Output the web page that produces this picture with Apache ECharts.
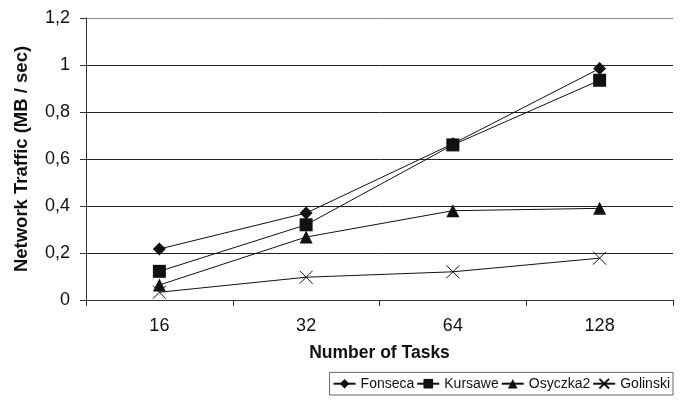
<!DOCTYPE html>
<html><head><meta charset="utf-8">
<script src="https://cdn.jsdelivr.net/npm/echarts@6/dist/echarts.min.js"></script>
<style>html,body{margin:0;padding:0;background:#fff}#c{width:682px;height:419px}</style>
</head><body><div id="c"></div>
<script>
var categories = ['16', '32', '64', '128'];
var fonseca = [0.217, 0.37, 0.665, 0.985];
var kursawe = [0.122, 0.32, 0.66, 0.935];
var osyczka2 = [0.064, 0.268, 0.38, 0.39];
var golinski = [0.033, 0.097, 0.12, 0.178];
var seriesNames = ['Fonseca', 'Kursawe', 'Osyczka2', 'Golinski'];

var ink = '#111';
var font = 'Liberation Sans, Arial, sans-serif';
var chart = echarts.init(document.getElementById('c'));
function mk(name, data, symbol, size, extra) {
  var s = {
    name: name, type: 'line', data: data, symbol: symbol, symbolSize: size,
    showAllSymbol: true,
    lineStyle: { color: ink, width: 1 },
    itemStyle: { color: ink },
    animation: false
  };
  if (extra) Object.assign(s, extra);
  return s;
}
chart.setOption({
  animation: false,
  textStyle: { fontFamily: font },
  grid: { left: 86, right: 9, top: 18, bottom: 119 },
  xAxis: {
    type: 'category', data: categories, boundaryGap: true,
    name: 'Number of Tasks', nameLocation: 'middle', nameGap: 44,
    nameTextStyle: { fontSize: 17.5, fontWeight: 'bold', color: '#111', fontFamily: font },
    axisLine: { lineStyle: { color: '#333', width: 1 } },
    axisTick: { show: true, length: 6, alignWithLabel: false, lineStyle: { color: '#333' } },
    axisLabel: { fontSize: 18, color: '#111', margin: 17, fontFamily: font }
  },
  yAxis: {
    type: 'value', min: 0, max: 1.2, interval: 0.2,
    name: 'Network Traffic (MB / sec)', nameLocation: 'middle', nameGap: 55,
    nameTextStyle: { fontSize: 18.5, fontWeight: 'bold', color: '#111', fontFamily: font },
    axisLine: { show: true, lineStyle: { color: '#333', width: 1 } },
    axisTick: { show: true, length: 6, lineStyle: { color: '#333' } },
    axisLabel: { fontSize: 18, color: '#111', margin: 16, fontFamily: font,
      formatter: function (v) { return String(Math.round(v * 10) / 10).replace('.', ','); } },
    splitLine: { show: true, lineStyle: { color: ['#888', '#222', '#222', '#222', '#222', '#222', '#888'], width: 1 } }
  },
  legend: {
    bottom: 24, right: 9, itemGap: 2, itemWidth: 22, itemHeight: 12,
    padding: [4, 3, 4, 3],
    borderColor: '#666', borderWidth: 1,
    textStyle: { fontSize: 14, color: '#111', fontFamily: font },
    data: seriesNames
  },
  series: [
    mk(seriesNames[0], fonseca, 'diamond', 13),
    mk(seriesNames[1], kursawe, 'rect', 13),
    mk(seriesNames[2], osyczka2, 'triangle', 13),
    mk(seriesNames[3], golinski, 'path://M0,0L10,10M10,0L0,10', 13, {
      itemStyle: { color: 'none', borderColor: ink, borderWidth: 1 }
    })
  ]
});
</script></body></html>
